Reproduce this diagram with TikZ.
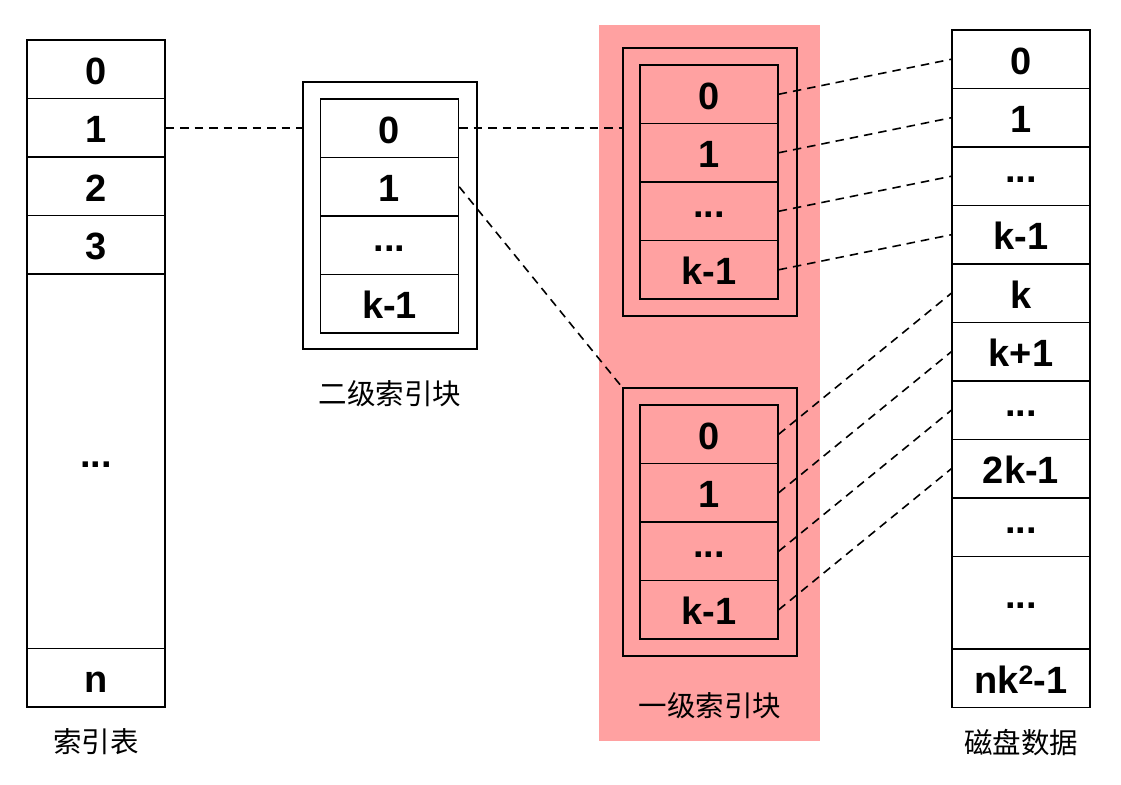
\documentclass[tikz,border=0pt]{standalone}
\usepackage{fontspec}
\setmainfont{Liberation Sans}
\newfontfamily\cjk{Noto Sans CJK SC}
\definecolor{pinkbg}{RGB}{255,161,161}
\tikzset{
  cellbox/.style={draw=black, line width=1.4pt, minimum width=138pt, minimum height=58.5pt, inner sep=0pt, text depth=0pt, text height=30pt, font=\bfseries\fontsize{38}{42}\selectfont},
  dotsbox/.style={cellbox, text height=12pt},
  outerbox/.style={draw=black, line width=2.6pt, minimum width=174pt, inner sep=0pt},
  link/.style={line width=1.6pt, dash pattern=on 8.5pt off 6pt},
  caption/.style={font=\cjk\fontsize{28.5}{32}\selectfont, inner sep=0pt}
}
\begin{document}
\begin{tikzpicture}[x=1pt,y=-1pt]
\useasboundingbox (0,0) rectangle (1121,784);
% pink background
\fill[pinkbg] (599,25) rectangle (820,741);

% index table
\node[cellbox] (L0) at (96,69.25) {0};
\node[cellbox] (L1) at (96,127.75) {1};
\node[cellbox] (L2) at (96,186.25) {2};
\node[cellbox] (L3) at (96,244.75) {3};
\node[dotsbox, minimum height=374.5pt] (L4) at (96,461.25) {...};
\node[cellbox] (L5) at (96,677.75) {n};
\node[caption] (Lc) at (96,742) {索引表};

% secondary index block
\node[outerbox, minimum height=267pt] (S) at (390,215.5) {};
\node[cellbox] (S0) at (389.5,128.25) {0};
\node[cellbox] (S1) at (389.5,186.75) {1};
\node[dotsbox] (S2) at (389.5,245.25) {...};
\node[cellbox] (S3) at (389.5,303.75) {k-1};
\node[caption] (Sc) at (390,394) {二级索引块};

% first-level index blocks
\node[outerbox, minimum height=268pt] (T) at (710,182) {};
\node[cellbox, fill=pinkbg] (T0) at (709,94.25) {0};
\node[cellbox, fill=pinkbg] (T1) at (709,152.75) {1};
\node[dotsbox, fill=pinkbg] (T2) at (709,211.25) {...};
\node[cellbox, fill=pinkbg] (T3) at (709,269.75) {k-1};

\node[outerbox, minimum height=268pt] (B) at (710,522) {};
\node[cellbox, fill=pinkbg] (B0) at (709,434.25) {0};
\node[cellbox, fill=pinkbg] (B1) at (709,492.75) {1};
\node[dotsbox, fill=pinkbg] (B2) at (709,551.25) {...};
\node[cellbox, fill=pinkbg] (B3) at (709,609.75) {k-1};
\node[caption] (Bc) at (710,706) {一级索引块};

% disk data
\node[cellbox] (R0) at (1021,59.25) {0};
\node[cellbox] (R1) at (1021,117.75) {1};
\node[dotsbox] (R2) at (1021,176.25) {...};
\node[cellbox] (R3) at (1021,234.75) {k-1};
\node[cellbox] (R4) at (1021,293.25) {k};
\node[cellbox] (R5) at (1021,351.75) {k+1};
\node[dotsbox] (R6) at (1021,410.25) {...};
\node[cellbox] (R7) at (1021,468.75) {2k-1};
\node[dotsbox] (R8) at (1021,527.25) {...};
\node[dotsbox, minimum height=92.5pt] (R9) at (1021,602.75) {...};
\node[cellbox] (R10) at (1021,678.25) {nk\textsuperscript{2}-1};
\node[caption] (Rc) at (1021,743) {磁盘数据};

% connectors
\draw[link] (L1.east) -- (L1.east -| S.west);
\draw[link] (S0.east) -- (S0.east -| T.west);
\draw[link] (S1.east) -- (B.north west);
\draw[link] (T0.east) -- (R0.west);
\draw[link] (T1.east) -- (R1.west);
\draw[link] (T2.east) -- (R2.west);
\draw[link] (T3.east) -- (R3.west);
\draw[link] (B0.east) -- (R4.west);
\draw[link] (B1.east) -- (R5.west);
\draw[link] (B2.east) -- (R6.west);
\draw[link] (B3.east) -- (R7.west);
\end{tikzpicture}
\end{document}
